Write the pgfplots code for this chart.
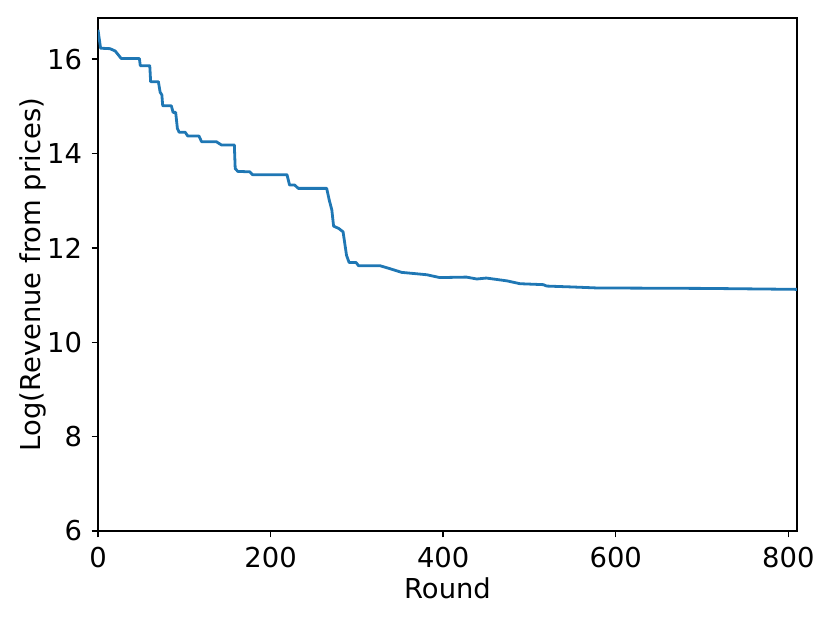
\documentclass[border=0pt]{standalone}
\usepackage{pgfplots}
\pgfplotsset{compat=1.18}
\usepackage{fontspec}
\setmainfont{DejaVu Sans}
\definecolor{mplblue}{HTML}{1F77B4}
\begin{document}
\fontsize{13.7pt}{16pt}\selectfont
\begin{tikzpicture}
\path[use as bounding box] (-49pt,-46pt) rectangle (366pt,265.5pt);
\begin{axis}[
  at={(0,0)}, anchor=south west,
  scale only axis, width=349.5pt, height=256.5pt,
  xmin=0, xmax=810, ymin=6, ymax=16.87,
  xtick={0,200,400,600,800}, ytick={6,8,10,12,14,16},
  tick align=outside, xtick pos=bottom, ytick pos=left,
  major tick length=3.2pt,
  axis line style={line width=0.7pt},
  every tick/.style={black, line width=0.7pt},
  /pgf/number format/assume math mode=true,
  ticklabel style={font=\fontsize{13.7pt}{16pt}\selectfont},
  label style={font=\fontsize{13.7pt}{16pt}\selectfont},
  xlabel={Round}, ylabel={Log(Revenue from prices)},
  xlabel style={yshift=4.5pt},
  ylabel style={yshift=-9pt},
  clip=true,
]
\addplot[mplblue, line width=1.4pt, line join=round] coordinates {
(0,16.62) (3,16.23) (14,16.22) (20,16.17) (27,16.01) (48,16.01) (49,15.86)
(60,15.86) (61,15.52) (70,15.52) (72,15.30) (74,15.24) (75,15.01) (85,15.01)
(87,14.87) (90,14.87) (92,14.53) (94,14.45) (101,14.45) (104,14.37) (117,14.37)
(120,14.25) (137,14.25) (143,14.18) (158,14.18) (159,13.68) (162,13.62)
(176,13.61) (179,13.55) (219,13.55) (222,13.33) (228,13.33) (232,13.26)
(265,13.26) (268,13.01) (271,12.80) (273,12.46) (279,12.41) (284,12.34)
(286,12.09) (288,11.84) (291,11.69) (299,11.69) (302,11.62) (327,11.62)
(338,11.56) (352,11.48) (381,11.43) (396,11.37) (427,11.38) (439,11.34)
(450,11.36) (474,11.30) (489,11.24) (516,11.22) (520,11.19) (551,11.17)
(578,11.15) (706,11.14) (810,11.12)
};
\end{axis}
\end{tikzpicture}
\end{document}
